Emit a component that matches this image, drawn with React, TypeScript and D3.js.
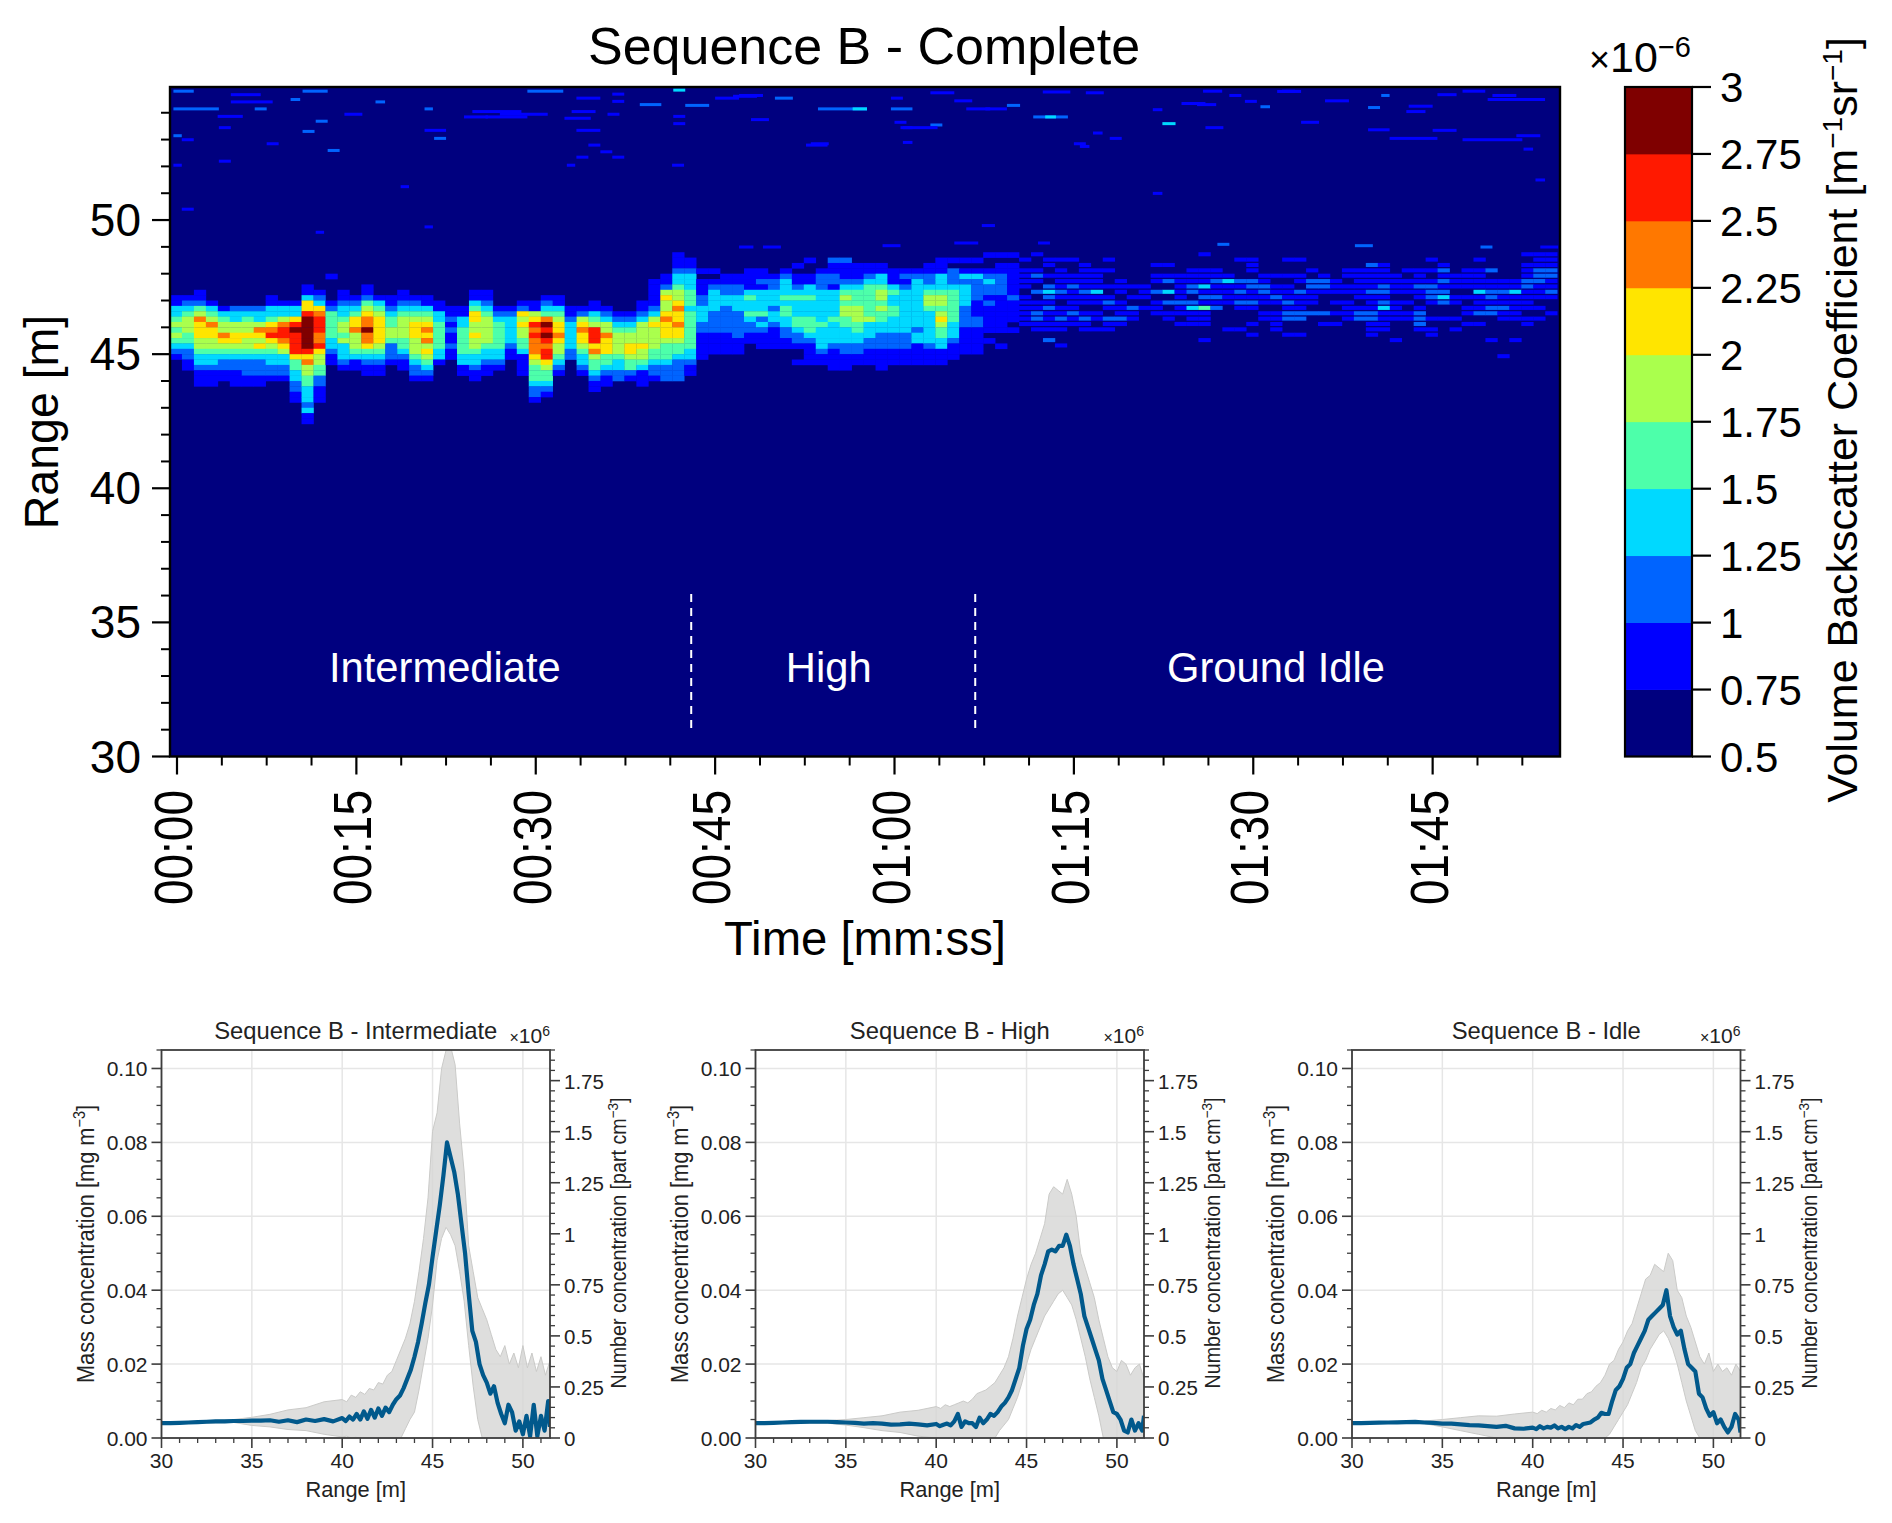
import React from "react";
import * as d3 from "d3";

const FONT = "'Liberation Sans', Arial, sans-serif";

// ---------- main heat map data ----------
// one string per 1 s column, each character is a colour-band index per 0.2 m range row, from 48.8 m downward
const heatColumns: string[] = [
"00000000113345454321","0000000012345554432211","0000000112457666554332111","0000000001345766554332111",
"000000000013455765432211","0000000000233556654322111","0000000000234556554322211","0000000000233576564322211",
"000000001133467865433221","000000000133578876533221","0000000001336898888644332211","00000011366899999986755443332311",
"0000000123678887786554422111","000010000124444433211","0000000112334554533321","0000000012346675554311",
"00000011245677977643211","00000000134566666543211","000000001123445542221","0000000112345555443211",
"000000001234566655543221","000000001134567675654321","000000000113344444331","00000000001121211211",
"00000000001133444443311","000000011346655655433211","00000001123455555433211","0000000000123444443321",
"00000000001233333211","00000000012656554431111","0000000001156878777654443221","000000001234798987886544321",
"00000000113456676554321","00000000001123333322","00000000001256766543321","00000000011345888675443211",
"0000000000123557666443211","000000000001234555543322","000000000001234556654421","0000000001123555565543111",
"000001111123565555443221","000011256556766654443222","111233455676676654432222","01123334443444444433211",
"00010111223332211111","0001012333322221111","0000112233222221111","0000112233322222111",
"00011113433432211","000112133334232111","000012233323321111","000123334344332211",
"001011234333443221001","010011334333444321111","000122233333343333211","0211221333334333321111",
"0211123454554433322111","001112344455544332211","001123444444533322111","0011334554544332221111",
"000111343344333222111","000121233333333222111","000123333333332331111","001122345543333332111",
"011133345545654433111","01022234444443332111","0101323333222211111","0101322221112211111",
"10012322121111101","101122221111111001","101111112111101","01011110111111",
"100121020112211","01101023212111102","010111121011211001","01001121111211",
"001111121101211","000111131101101","010100101210211","00000111011121",
"0000001010211","00000011101","001011020111","0010120302011",
"00001111121101","00011122023111","10011131214111001","00011211212",
"000013111100001","010002121210001","0111022112100101","0000112211011",
"000010112101111","0100101112122001","0100110211122001","000102211102",
"00001221000201","00000111010101","0001101101111","0001111110122",
"0021111211122111","001111221231111","00001111011110001","0001011101011",
"000111211012221","0101012221001011","0012121232001","000011101100101",
"00011110101101","01011113111201","00020112212200001","00000112112110000001",
"00000113111110001","10111221111011","1112221110101","111221121001",
];
// isolated returns: [start s, end s, range m, colour-band index]
const speckles: [number, number, number, number][] = [
[-0.3,1.4,54.86,2],[10.5,12.6,54.86,2],[41.5,42.5,54.9,3],[4.5,8,54.46,1],[9.5,10.3,54.55,2],[-0.3,3.5,54.2,2],
[6.5,7.5,54.2,2],[20.7,21.4,54.2,2],[38.7,40.5,54.36,2],[42.5,44.5,54.33,2],[29.3,32.3,54.86,2],[53.6,57.7,54.2,2],
[56.5,57.7,54.2,3],[59.7,61.5,54.2,2],[16.6,17.4,54.46,2],[11.6,12.6,53.74,2],[10.5,11.5,53.36,2],[21.5,22.5,53.1,2],
[12.6,13.6,52.65,2],[7.5,8.5,52.9,1],[-0.3,0.4,53.2,2],[18.7,19.4,51.3,1],[0.4,1.4,50.46,1],[11.6,12.3,49.6,1],
[20.7,21.4,49.8,1],[33.4,34.4,52.4,1],[36.4,37.4,52.4,1],[41.4,42.4,52.1,1],[-0.3,0.4,52.1,1],[3.5,4.5,52.25,1],
[32.6,33.3,52.1,1],[14,15.5,54.0,1],[24,26,53.9,1],[27,31,54.0,1],[33,35,54.1,1],[36,37,54.0,1],[45,47,54.6,1],
[47,49,54.7,1],[50,51.5,54.6,2],[63,65,54.8,1],[65,66.5,54.5,1],[48,49.5,53.8,1],[53,54.5,52.9,1],[60,61,53.7,1],
[63,64,53.6,2],[66,68,54.2,1],[72.4,74.7,54.83,1],[69.4,70.5,54.33,2],[71.6,74.5,53.9,2],[72.6,73.5,53.9,3],
[82.4,83.5,53.65,3],[90.6,91.4,54.28,2],[99.6,100.6,54.25,2],[100.7,101.4,54.7,2],[107.5,109.4,54.86,1],
[113.6,114.4,51.55,1],[81.6,82.4,51.05,1],[67.3,68.4,49.85,1],[76,77.5,54.8,1],[84,86,54.4,1],[86,87.5,53.5,1],
[92,94,54.85,1],[96,98,54.5,1],[103,105,54.3,1],[105,107,53.4,1],[110,112,54.7,1],[112,114,53.2,1],[75,76,52.9,1],
[78,79,53.1,1],[88,89,54.7,1],[94,95.5,53.7,1],[47,48.2,49.05,1],[49,50.5,49.05,1],[65,67,49.2,1],[72,73,49.2,1],
[87,88,49.15,2],[98.5,100,49.1,2],[109,110,49.05,2],[114,115.5,49.05,1],[59,60.5,49.1,1],
[4.5,7,54.73,1],[3.4,5.5,53.92,1],[3.5,4.5,53.5,1],[0.4,1.4,53.05,1],[24.7,28.8,54.1,1],[25.8,29.3,53.9,1],[32.4,34.6,53.85,1],
[33.4,35.4,54.6,1],[36.4,37.4,54.48,1],[36.4,37.4,54.75,1],[20.7,22.5,53.4,1],[33.4,35.4,53.4,1],[34.4,35.4,52.85,1],
[35.4,36.4,52.6,1],[41.5,42.5,53.92,1],[41.5,42.5,53.65,1],[46.5,48.5,54.67,1],[52.6,54.4,52.85,1],[60.7,61.5,53.5,1],
[60.7,61.5,52.95,1],[59.7,60.7,54.6,1],[99.6,101.4,53.42,1],[101.4,105.4,53.1,1],[107.5,112.5,53.05,1],[112.6,113.4,52.7,1],
[75.5,76.3,52.8,1],[76.6,77.4,53.3,1],[102.8,104.4,54.1,1],[109.6,114.4,54.55,1],[85.3,86.9,54.36,1],[89.3,90.3,54.48,1],
[81.6,82.4,54.17,1],[60.5,63.6,53.5,1],[67.6,69.4,54.2,1],[85.8,87.4,54.86,1],[92.4,93.5,54.86,1],[105.4,107,54.73,1],
];
const colorBands = ["#00007f","#0000ff","#0064ff","#00d9ff","#4dffaa","#aaff4d","#ffe500","#ff7800","#ff1900","#7f0000"];
const colorTicks = [0.5,0.75,1,1.25,1.5,1.75,2,2.25,2.5,2.75,3];
const colorTickLabels = ["0.5","0.75","1","1.25","1.5","1.75","2","2.25","2.5","2.75","3"];
const rangeTicks = [30,35,40,45,50];
const rangeMinor = [31,32,33,34,36,37,38,39,41,42,43,44,46,47,48,49,51,52,53,54];
const timeTicks = [0,15,30,45,60,75,90,105];
const timeLabels = ["00:00","00:15","00:30","00:45","01:00","01:15","01:30","01:45"];
const timeMinor = [3.75,7.5,11.25,18.75,22.5,26.25,33.75,37.5,41.25,48.75,52.5,56.25,63.75,67.5,71.25,78.75,82.5,86.25,93.75,97.5,101.25,108.75,112.5];
const phaseLabels: [string, number][] = [["Intermediate",22.4],["High",54.5],["Ground Idle",91.9]];
const phaseEdges = [43, 66.75];

// ---------- lower panels data, values in 1e-3 mg/m3 ----------
const lineRanges = [30,30.5,31,31.5,32,32.5,33,33.5,34,34.5,35,35.5,36,36.5,37,37.5,38,38.5,39,39.5,
40,40.2,40.4,40.6,40.8,41,41.2,41.4,41.6,41.8,42,42.2,42.4,42.6,42.8,43,43.2,43.4,43.6,43.8,44,44.2,44.4,44.6,44.8,45,45.2,45.4,45.6,45.8,46,46.2,46.4,46.6,46.8,47,47.2,47.4,47.6,47.8,48,48.2,48.4,48.6,48.8,49,49.2,49.4,49.6,49.8,50,50.2,50.4,50.6,50.8,51,51.2,51.4,51.5];
const bandRanges = [30,32,34,35,36,37,38,39,
40,40.25,40.5,40.75,41,41.25,41.5,41.75,42,42.25,42.5,42.75,43,43.25,43.5,43.75,44,44.25,44.5,44.75,45,45.25,45.5,45.75,46,46.25,46.5,46.75,47,47.25,47.5,47.75,48,48.25,48.5,48.75,49,49.25,49.5,49.75,50,50.25,50.5,50.75,51,51.25,51.5];

const interMean = [4,4.05,4.1,4.2,4.3,4.4,4.5,4.5,4.6,4.6,4.7,4.7,4.8,4.4,4.8,4.3,5,4.6,5.1,4.5,
5.4,4.6,5.8,5,6.5,5,7.2,5.2,7.6,5.5,8,6,8.2,7,9,10.5,11.5,13.5,16,18.5,22,26,31,36.5,41.5,49,56,63,71,80,76,72,66,58,50,39,29,26,20,17,15,12,14,9.5,6.5,4,9,7,2,4.5,1,6,0.5,9,0.5,6,2,10,3];
const interUpper = [4.1,4.6,5,5.6,6.4,7.6,8.2,9.8,
10.4,9.8,11.6,11,12.5,11.8,13.4,13,15,14.6,17,18,21,24,27,31,37,45,54,65,83,88,100,105,106,101,85,72,52,45,38,35,32,28,24,22,25,20,23,19,25,19,23,18,22,17,21];
const interLower = [4,4,4.2,3.4,3,2.3,2,1,
0.3,0.5,0,0.2,0,0,0,0,0,0,0,0,0,0,2.5,5,7,13,20,27,36,48,54,57,55,52,45,37,25,14,5,0,0,0,0,0,0,0,0,0,0,0,0,0,0,0,0];

const highMean = [4,4.05,4.1,4.2,4.3,4.35,4.4,4.4,4.4,4.3,4.2,4.1,3.9,4,3.9,3.6,3.7,3.9,3.7,3.4,
3.8,3.2,3.6,3.9,3.4,4.5,6.5,3,4.5,4,4,3,5.5,4,5,6.5,6,7,8.5,9.5,11,13,16,19,25,29.5,32,36,39,44,47,50.5,51,50.5,52,52,55,52,47,43,39,33,30,27,24,21,16,13,10,7,6.5,5,2,1.5,5,2,4,2,6];
const highUpper = [4.1,4.5,4.7,5,5.5,6,7,7.5,
8.5,8,9,8.5,9,9.5,10,9.5,10.5,12,12.5,13,14,15,17,19,22,27,33,38,43,47,50,54,58,66,68,67,66,70,66,60,50,46,42,38,32,27,22,19,18,21,20,17,19,20,16];
const highLower = [4,4,4,3.5,2.8,2,1.5,0.5,
0,0,0,0,0,0,0,0,0,0,0,0,0,0,2,3.5,5,8,11,15,20,24,27,30,33,35,37,39,40,38,36,32,27,22,16,11,6,0,0,0,0,0,0,0,0,0,0];

const idleMean = [4,4.05,4.1,4.15,4.2,4.25,4.3,4.35,4.2,4.1,3.9,3.9,3.7,3.5,3.4,3.2,3,3.3,2.6,2.5,
2.8,2.4,3.2,2.6,3,2.8,3.4,2.6,3,2.4,3,2.6,3.5,3,3.8,4,4.2,5,5.5,6.8,6.5,6.5,10,13,14,16,19,20,23,25,27,29,32,33,34,35,36,40,33,30,28,29,24,20,19,18,12,11,8,6,7,4,5,3,1.5,3,6.5,5,1.5];
const idleUpper = [4.1,4.4,4.6,5,5.5,6,5.9,6.5,
7,6.6,7.5,7,8,7.6,8.8,8.2,9.5,9,10.5,10.5,12,12.5,14,15,17,20,21,24,26,29,31,35,39,43,44,47,46,45,50,48,40,38,33,30,26,22,20,23,18,20,18,19,17,20,18];
const idleLower = [4,4,3.9,3,2,1,0,0,
0,0,0,0,0,0,0,0,0,0,0,0,0,0,0,0,0,1,3,5,7,9,12,15,19,21,24,26,28,29,27,24,20,15,10,6,2,0,0,0,0,0,0,0,0,0,0];

const massTicks = [0,0.02,0.04,0.06,0.08,0.1];
const massLabels = ["0.00","0.02","0.04","0.06","0.08","0.10"];
const massMinor = [0.005,0.01,0.015,0.025,0.03,0.035,0.045,0.05,0.055,0.065,0.07,0.075,0.085,0.09,0.095,0.105];
const numberTicks = [0,0.25,0.5,0.75,1,1.25,1.5,1.75];
const numberLabels = ["0","0.25","0.5","0.75","1","1.25","1.5","1.75"];
const numberMinor = [0.05,0.1,0.15,0.2,0.3,0.35,0.4,0.45,0.55,0.6,0.65,0.7,0.8,0.85,0.9,0.95,1.05,1.1,1.15,1.2,1.3,1.35,1.4,1.45,1.55,1.6,1.65,1.7,1.8,1.85,1.9];
const panelRangeTicks = [30,35,40,45,50];
const panelRangeMinor = [31,32,33,34,36,37,38,39,41,42,43,44,46,47,48,49,51];

function Sup({ t, size, rise }: { t: string; size: number; rise: number }) {
  return <tspan fontSize={size} dy={-rise}>{t}</tspan>;
}

function Panel(props: { left: number; title: string; mean: number[]; upper: number[]; lower: number[]; id: string }) {
  const { left, title, mean, upper, lower, id } = props;
  const right = left + 388.5, top = 1050, bottom = 1438;
  const x = d3.scaleLinear().domain([30, 51.5]).range([left, right]);
  const y = d3.scaleLinear().domain([0, 0.105]).range([bottom, top]);
  const yR = d3.scaleLinear().domain([0, 1.9]).range([bottom, top]);
  const bandPts = bandRanges.map((r, i) => ({ r, u: upper[i] / 1000, l: lower[i] / 1000 }));
  const linePts = lineRanges.map((r, i) => ({ r, v: mean[i] / 1000 }));
  const area = d3.area<any>().x(d => x(d.r)).y0(d => y(d.l)).y1(d => y(d.u))(bandPts) as string;
  const line = d3.line<any>().x(d => x(d.r)).y(d => y(d.v))(linePts) as string;
  const axis = "#3d3d3d";
  return (
    <g fontFamily={FONT} fill="#222">
      <clipPath id={id}><rect x={left} y={top} width={right - left} height={bottom - top} /></clipPath>
      {panelRangeTicks.map(t => <line key={t} x1={x(t)} x2={x(t)} y1={top} y2={bottom} stroke="#e6e6e6" strokeWidth={1.5} />)}
      {massTicks.map(t => <line key={t} x1={left} x2={right} y1={y(t)} y2={y(t)} stroke="#e6e6e6" strokeWidth={1.5} />)}
      <g clipPath={`url(#${id})`}>
        <path d={area} fill="#d6d6d4" fillOpacity={0.8} stroke="#cacac8" strokeWidth={1} />
        <path d={line} fill="none" stroke="#01598c" strokeWidth={4.2} strokeLinejoin="round" />
      </g>
      <rect x={left} y={top} width={right - left} height={bottom - top} fill="none" stroke={axis} strokeWidth={1.8} />
      {massTicks.map((t, i) => (
        <g key={t}>
          <line x1={left - 10} x2={left} y1={y(t)} y2={y(t)} stroke={axis} strokeWidth={1.6} />
          <text x={left - 14} y={y(t) + 8} textAnchor="end" fontSize={21}>{massLabels[i]}</text>
        </g>
      ))}
      {massMinor.map(t => <line key={t} x1={left - 5} x2={left} y1={y(t)} y2={y(t)} stroke={axis} strokeWidth={1.3} />)}
      {numberTicks.map((t, i) => (
        <g key={t}>
          <line x1={right} x2={right + 10} y1={yR(t)} y2={yR(t)} stroke={axis} strokeWidth={1.6} />
          <text x={right + 14} y={yR(t) + 8} fontSize={20.5}>{numberLabels[i]}</text>
        </g>
      ))}
      {numberMinor.map(t => <line key={t} x1={right} x2={right + 5} y1={yR(t)} y2={yR(t)} stroke={axis} strokeWidth={1.3} />)}
      {panelRangeTicks.map(t => (
        <g key={t}>
          <line x1={x(t)} x2={x(t)} y1={bottom} y2={bottom + 10} stroke={axis} strokeWidth={1.6} />
          <text x={x(t)} y={1468} textAnchor="middle" fontSize={21}>{t}</text>
        </g>
      ))}
      {panelRangeMinor.map(t => <line key={t} x1={x(t)} x2={x(t)} y1={bottom} y2={bottom + 5} stroke={axis} strokeWidth={1.3} />)}
      <text x={(left + right) / 2} y={1039} textAnchor="middle" fontSize={23.8}>{title}</text>
      <text x={(left + right) / 2} y={1497} textAnchor="middle" fontSize={21.8}>Range [m]</text>
      <text transform={`translate(${left - 68},1244) rotate(-90) scale(1,1.1)`} textAnchor="middle" fontSize={21.8}>
        Mass concentration [mg m<Sup t="−3" size={14.5} rise={8} /><tspan dy={8}>]</tspan>
      </text>
      <text transform={`translate(${right + 76},1243) rotate(-90) scale(1,1.1)`} textAnchor="middle" fontSize={19.7}>
        Number concentration [part cm<Sup t="−3" size={13.5} rise={7} /><tspan dy={7}>]</tspan>
      </text>
      <text x={right} y={1043} textAnchor="end" fontSize={21}>
        <tspan fontSize={16}>×</tspan>10<Sup t="6" size={14} rise={7} />
      </text>
    </g>
  );
}

export default function App() {
  const mL = 170, mR = 1560, mT = 87, mB = 756.5;
  const xT = d3.scaleLinear().domain([-0.585, 115.65]).range([mL, mR]);
  const yM = d3.scaleLinear().domain([30, 54.96]).range([mB, mT]);
  const cbar = d3.scaleLinear().domain([0.5, 3]).range([mB, mT]);
  const bandValue = (k: number) => 0.5 + 0.25 * k + 0.125;
  const color = d3.scaleQuantize<string>().domain([0.5, 3]).range(colorBands);
  const cells: { c: number; t: number; r: number; v: number }[] = [];
  heatColumns.forEach((s, c) => {
    for (let j = 0; j < s.length; j++) {
      const k = +s[j];
      if (k > 0) cells.push({ c, t: c - 0.585, r: 48.8 - 0.2 * j, v: bandValue(k) });
    }
  });
  const secondBands = colorBands.map((_, k) => k);
  const rowDepth = (c: number) => (c >= 71 ? 0.14 : 0.2);
  return (
    <svg width={1892} height={1523} viewBox="0 0 1892 1523" style={{ position: "absolute", left: 0, top: 0, background: "#fff" }} fontFamily={FONT}>
      <text x={864} y={64} textAnchor="middle" fontSize={52}>Sequence B - Complete</text>
      <rect x={mL} y={mT} width={mR - mL} height={mB - mT} fill={colorBands[0]} />
      {speckles.map((d, i) => (
        <rect key={i} x={xT(d[0])} width={xT(d[1]) - xT(d[0])} y={yM(d[2])} height={3} fill={color(bandValue(d[3]))} />
      ))}
      {cells.map((d, i) => (
        <rect key={i} x={xT(d.t)} width={xT(d.t + 1) - xT(d.t) + 0.3} y={yM(d.r)} height={yM(d.r - rowDepth(d.c)) - yM(d.r) + 0.3} fill={color(d.v)} />
      ))}
      {phaseEdges.map(t => <line key={t} x1={xT(t)} x2={xT(t)} y1={594} y2={734} stroke="#fff" strokeWidth={2} strokeDasharray="8 6" />)}
      {phaseLabels.map(([s, t]) => <text key={s} x={xT(t)} y={682} fill="#fff" textAnchor="middle" fontSize={41.7}>{s}</text>)}
      <rect x={mL} y={mT} width={mR - mL} height={mB - mT} fill="none" stroke="#000" strokeWidth={2.4} />
      {rangeTicks.map(t => (
        <g key={t}>
          <line x1={mL - 18} x2={mL} y1={yM(t)} y2={yM(t)} stroke="#000" strokeWidth={2.2} />
          <text x={141} y={yM(t) + 16} textAnchor="end" fontSize={46}>{t}</text>
        </g>
      ))}
      {rangeMinor.map(t => <line key={t} x1={mL - 9} x2={mL} y1={yM(t)} y2={yM(t)} stroke="#000" strokeWidth={2} />)}
      {timeTicks.map((t, i) => (
        <g key={t}>
          <line x1={xT(t)} x2={xT(t)} y1={mB} y2={mB + 18} stroke="#000" strokeWidth={2.2} />
          <text transform={`translate(${xT(t) - 4},790) rotate(-90) scale(1,1.16)`} textAnchor="end" dy="0.358em" fontSize={46}>{timeLabels[i]}</text>
        </g>
      ))}
      {timeMinor.map(t => <line key={t} x1={xT(t)} x2={xT(t)} y1={mB} y2={mB + 9} stroke="#000" strokeWidth={2} />)}
      <text transform="translate(58,422) rotate(-90) scale(1,1.05)" textAnchor="middle" fontSize={46.5}>Range [m]</text>
      <text x={865} y={955} textAnchor="middle" fontSize={47.3}>Time [mm:ss]</text>

      {secondBands.map(k => (
        <rect key={k} x={1625} width={67} y={cbar(colorTicks[k + 1])} height={cbar(colorTicks[k]) - cbar(colorTicks[k + 1]) + 0.4} fill={colorBands[k]} />
      ))}
      <rect x={1625} y={mT} width={67} height={mB - mT} fill="none" stroke="#000" strokeWidth={2.2} />
      {colorTicks.map((t, i) => (
        <g key={t}>
          <line x1={1692} x2={1711} y1={cbar(t)} y2={cbar(t)} stroke="#000" strokeWidth={2.2} />
          <text x={1720} y={cbar(t) + 15} fontSize={42}>{colorTickLabels[i]}</text>
        </g>
      ))}
      <text x={1691} y={72} textAnchor="end" fontSize={43}>
        <tspan fontSize={36}>×</tspan>10<Sup t="−6" size={29} rise={15} />
      </text>
      <text transform="translate(1857,420) rotate(-90)" textAnchor="middle" fontSize={43}>
        Volume Backscatter Coefficient [m<Sup t="−1" size={28} rise={15} /><tspan dy={15}>sr</tspan><Sup t="−1" size={28} rise={15} /><tspan dy={15}>]</tspan>
      </text>

      <Panel id="p1" left={161.5} title="Sequence B - Intermediate" mean={interMean} upper={interUpper} lower={interLower} />
      <Panel id="p2" left={755.5} title="Sequence B - High" mean={highMean} upper={highUpper} lower={highLower} />
      <Panel id="p3" left={1352} title="Sequence B - Idle" mean={idleMean} upper={idleUpper} lower={idleLower} />
    </svg>
  );
}
